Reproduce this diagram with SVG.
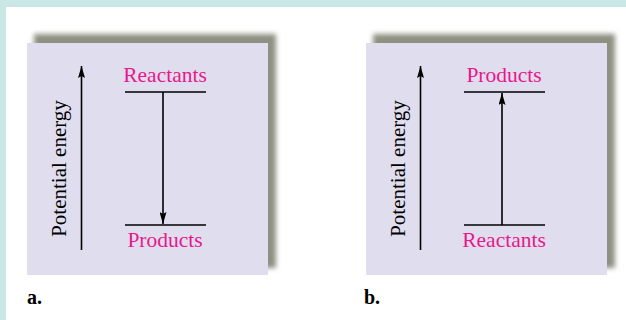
<svg xmlns="http://www.w3.org/2000/svg" width="626" height="320" viewBox="0 0 626 320">
<defs>
<filter id="blur" x="-10%" y="-10%" width="120%" height="120%"><feGaussianBlur stdDeviation="2.5"/></filter>
<marker id="ah" viewBox="0 0 12 7" refX="12" refY="3.5" markerWidth="12" markerHeight="7" markerUnits="userSpaceOnUse" orient="auto"><path d="M0,0 L12,3.5 L0,7 L2,3.5 Z" fill="#000"/></marker>
</defs>
<style>
.lbl{font-family:"Liberation Serif","Times New Roman",serif;font-size:21.5px;fill:#e8188c;text-anchor:middle}
.axis{font-family:"Liberation Serif","Times New Roman",serif;font-size:21px;fill:#000;text-anchor:middle}
.tag{font-family:"Liberation Serif","Times New Roman",serif;font-size:20px;font-weight:bold;fill:#000}
.ln{stroke:#000;stroke-width:1.6;fill:none}
.panel{fill:#e0ddee}
.shadow{fill:#8e9082}
</style>
<rect x="0" y="0" width="626" height="320" fill="#c8e7e5"/>
<rect x="6" y="7" width="620" height="313" fill="#fff"/>
<g id="panel-a">
<rect class="shadow" x="34" y="34" width="242" height="234" filter="url(#blur)"/>
<rect class="panel" x="27" y="43" width="241" height="232"/>
</g>
<g id="panel-b">
<rect class="shadow" x="373" y="34" width="242" height="234" filter="url(#blur)"/>
<rect class="panel" x="366" y="43" width="241" height="232"/>
</g>
<g id="axis-a"><text class="axis" transform="translate(66,168.5) rotate(-90)">Potential energy</text></g>
<g id="axis-b"><text class="axis" transform="translate(405,168.5) rotate(-90)">Potential energy</text></g>
<g id="reactants-a"><line class="ln" x1="125" y1="92" x2="206" y2="92"/><text class="lbl" x="165" y="82">Reactants</text></g>
<g id="products-a"><line class="ln" x1="125" y1="225" x2="206" y2="225"/><text class="lbl" x="165" y="247">Products</text></g>
<g id="products-b"><line class="ln" x1="464" y1="92" x2="545" y2="92"/><text class="lbl" x="504" y="82">Products</text></g>
<g id="reactants-b"><line class="ln" x1="464" y1="225" x2="545" y2="225"/><text class="lbl" x="504" y="247">Reactants</text></g>
<g id="connectors">
<line class="ln" x1="81.5" y1="250" x2="81.5" y2="66" marker-end="url(#ah)"/>
<line class="ln" x1="420.5" y1="250" x2="420.5" y2="66" marker-end="url(#ah)"/>
<line class="ln" x1="163" y1="92" x2="163" y2="224" marker-end="url(#ah)"/>
<line class="ln" x1="502" y1="225" x2="502" y2="93" marker-end="url(#ah)"/>
</g>
<text class="tag" x="27" y="304">a.</text>
<text class="tag" x="364" y="304">b.</text>
</svg>
